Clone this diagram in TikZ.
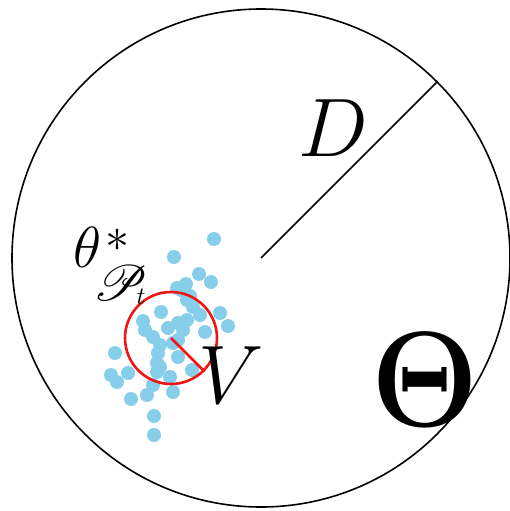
\RequirePackage{fix-cm}
\documentclass[tikz,border=0pt]{standalone}
\usepackage{amsmath,mathrsfs,graphicx}
\definecolor{dotblue}{RGB}{135,206,235}
\definecolor{ringred}{RGB}{240,20,20}
\begin{document}
\begin{tikzpicture}[x=1pt,y=-1pt,
  dot/.style={circle,fill=dotblue,inner sep=0pt,minimum size=14pt},
  bigring/.style={circle,draw=black,line width=1.6pt,inner sep=0pt,minimum size=498pt},
  redring/.style={circle,draw=ringred,line width=2.6pt,inner sep=0pt,minimum size=92pt},
  lbl/.style={inner sep=0pt}]
\useasboundingbox (0,0) rectangle (510,511);
\node[bigring] (space) at (261,258) {};
\coordinate (c) at (space.center);
% dots
\foreach \x/\y in {214/239,174/257,199/274,211/282,186/284,177/288,187/300,193/307,200/315,220/313,228/326,205/332,161/312,143/321,145/330,153/337,168/328,178/323,187/320,178/340,178/357,160/345,158/353,157/363,157/372,192/370,170/377,173/392,153/385,147/395,131/399,128/373,115/353,111/375,117/382,154/416,154/435,173/343,160/367,181/290,190/296,183/330}
  \node[dot] at (\x,\y) {};
\node[redring] (ball) at (171,338) {};
\draw[ringred,line width=2.6pt] (ball.center) -- (ball.-45);
\draw[line width=1.6pt] (c) -- (space.45);
\node[lbl] (Dlbl) at (333,128) {\fontsize{83}{90}\selectfont$D$};
\node[lbl] (Vlbl) at (231,375) {\fontsize{83}{90}\selectfont$V$};
\node[lbl,xscale=0.9] (Th) at (425,380) {\fontsize{136}{140}\selectfont$\mathbf{\Theta}$};
% theta^*_{P_t}
\node[lbl] (theta) at (88,247) {\fontsize{58}{60}\selectfont$\theta$};
\node[lbl] (star) at (117.5,240) {\fontsize{48}{50}\selectfont$\ast$};
\node[lbl] (scrP) at (121,283) {\scalebox{2.0}{\fontsize{24.88}{28}\selectfont$\mathscr{P}$}};
\node[lbl] (tsub) at (141,297) {\fontsize{25}{28}\selectfont$t$};
\end{tikzpicture}
\end{document}
